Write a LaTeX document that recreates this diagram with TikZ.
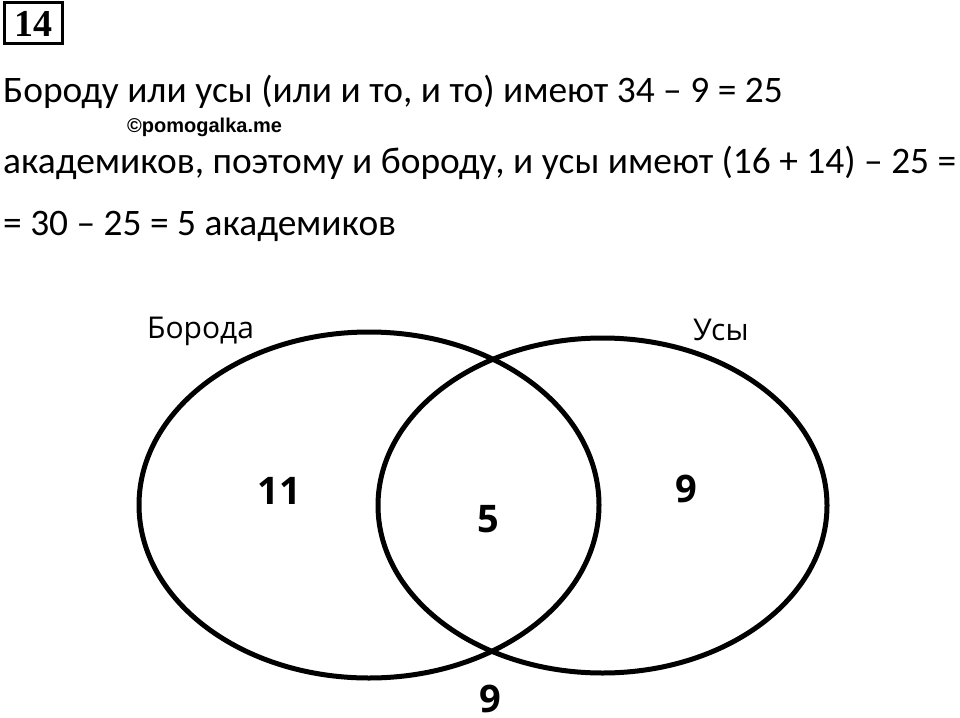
\documentclass[tikz,border=0pt]{standalone}
\usepackage{fontspec}
\setmainfont{Carlito}
\newfontfamily\vennfont{Open Sans}
\newfontfamily\markfont{Liberation Sans}
\newfontfamily\taskfont{Liberation Serif}
\usepackage{tikz}
\usetikzlibrary{positioning}

\tikzset{
  solveLine/.style={anchor=base west,inner sep=0pt,font=\fontsize{37.4}{37.4}\selectfont},
  setLabel/.style={anchor=base west,inner sep=0pt,font=\vennfont\fontsize{30}{30}\selectfont},
  regionNum/.style={inner sep=0pt,font=\vennfont\bfseries\fontsize{38}{38}\selectfont},
  vennSet/.style={draw=black,line width=5pt}
}

\begin{document}
\begin{tikzpicture}[x=1pt,y=-1pt]
  \useasboundingbox (0,0) rectangle (960,717);
  % task number
  \node[draw=black,line width=3pt,minimum width=58pt,minimum height=41pt,inner sep=0pt,
        font=\taskfont\bfseries\fontsize{38}{38}\selectfont] (task) at (33,23.5) {14};
  % solution text
  \node[solveLine] (line1) at (3,102) {Бороду или усы (или и то, и то) имеют 34 – 9 = 25};
  \node[anchor=base west,inner sep=0pt,font=\markfont\bfseries\fontsize{20}{20}\selectfont] (mark) at (127,132) {©pomogalka.me};
  \node[solveLine] (line2) at (3,173) {академиков, поэтому и бороду, и усы имеют (16 + 14) – 25 =};
  \node[solveLine] (line3) at (3,235) {= 30 – 25 = 5 академиков};
  % sets
  \draw[vennSet] (369,505) ellipse (230 and 173);
  \draw[vennSet] (602.5,505.5) ellipse (224.5 and 167.5);
  \node[setLabel] (beard) at (147,338) {Борода};
  \node[setLabel] (moust) at (693,340) {Усы};
  % counts
  \node[regionNum] (onlyBeard) at (279,491) {11};
  \node[regionNum] (both) at (488,519) {5};
  \node[regionNum] (onlyMoust) at (686,489) {9};
  \node[regionNum] (neither) at (490,699) {9};
\end{tikzpicture}
\end{document}
